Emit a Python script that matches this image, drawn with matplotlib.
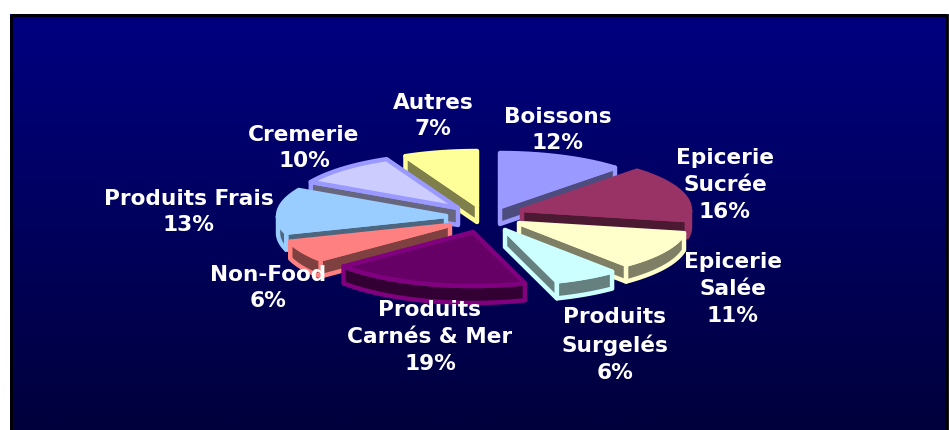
import numpy as np
import matplotlib
matplotlib.use("Agg")
import matplotlib.pyplot as plt
from matplotlib.patches import Polygon, Rectangle
from matplotlib.colors import LinearSegmentedColormap

W, H = 949, 430

# data
categories = ["Boissons", "Epicerie\nSucrée", "Epicerie\nSalée", "Produits\nSurgelés",
              "Produits\nCarnés & Mer", "Non-Food", "Produits Frais", "Cremerie", "Autres"]
values = [12, 16, 11, 6, 19, 6, 13, 10, 7]

# style
fills = ["#9999FF", "#993366", "#FFFFCC", "#CCFFFF", "#660066", "#FF8080", "#99CCFF", "#CCCCFF", "#FFFF99"]
borders = ["#9999FF", "#993366", "#FFFFCC", "#CCFFFF", "#800080", "#FF8080", "#99CCFF", "#9999FF", "#FFFF99"]
walls = ["#4C4C7F", "#4C1933", "#7F7F66", "#667F7F", "#330033", "#7F4040", "#4C667F", "#66667F", "#7F7F4C"]
# exploded position of each slice's apex
apex_x = [500, 522, 519, 505, 473, 450, 446, 458, 477]
apex_y = [207, 210, 223, 230, 232, 225, 216, 208, 205]
label_x = [558, 725, 733, 615, 430, 268, 189, 304, 433]
label_y = [130, 185, 289, 345, 337, 288, 212, 148, 116]
draw_order = [0, 8, 7, 6, 1, 2, 5, 3, 4]
RX, RY, DEPTH = 168, 54, 17

fig = plt.figure(figsize=(W / 100, H / 100), dpi=100, facecolor="white")
ax = fig.add_axes([0, 0, 1, 1])
ax.set_xlim(0, W)
ax.set_ylim(H, 0)
ax.axis("off")

cmap = LinearSegmentedColormap.from_list("bg", ["#000080", "#00003C"])
ax.imshow(np.linspace(0, 1, 256).reshape(-1, 1), extent=[10, 947, H, 14], cmap=cmap,
          aspect="auto", zorder=0)
ax.set_xlim(0, W)
ax.set_ylim(H, 0)
ax.add_patch(Rectangle((11, 15), 936, H, fill=False, ec="black", lw=2, zorder=1))

edges = np.cumsum([0] + values) / sum(values) * 2 * np.pi


def arc(i, a0, a1, down=0):
    t = np.linspace(a0, a1, 14)
    return np.column_stack([apex_x[i] + RX * np.sin(t), apex_y[i] - RY * np.cos(t) + down])


def poly(points, face, edge, z):
    ax.add_patch(Polygon(points, closed=True, fc=face, ec=edge, lw=3.2, joinstyle="round", zorder=z))


z = 2
for i in draw_order:
    a0, a1 = edges[i], edges[i + 1]
    apex = np.array([[apex_x[i], apex_y[i]]])
    # radial cut face
    if a1 <= np.pi or a0 >= np.pi:
        edge_angle = a1 if a1 <= np.pi else a0
        end = arc(i, edge_angle, edge_angle)[:1]
        pts = np.vstack([apex, end, end + [0, DEPTH], apex + [0, DEPTH]])
        poly(pts, walls[i], borders[i], z)
    # front rim
    lo, hi = max(a0, np.pi / 2), min(a1, np.pi * 1.5)
    if hi > lo:
        top = arc(i, lo, hi)
        poly(np.vstack([top, arc(i, hi, lo, DEPTH)]), walls[i], borders[i], z)
    # top face
    poly(np.vstack([apex, arc(i, a0, a1)]), fills[i], borders[i], z + 0.5)
    z += 1

values_text = [f"{c}\n{v}%" for c, v in zip(categories, values)]
for x, y, s in zip(label_x, label_y, values_text):
    ax.text(x, y, s, ha="center", va="center", color="white", family="DejaVu Sans",
            fontweight="bold", fontsize=15.6, linespacing=1.42, zorder=30)

fig.savefig("out.png", dpi=100, facecolor="white")
